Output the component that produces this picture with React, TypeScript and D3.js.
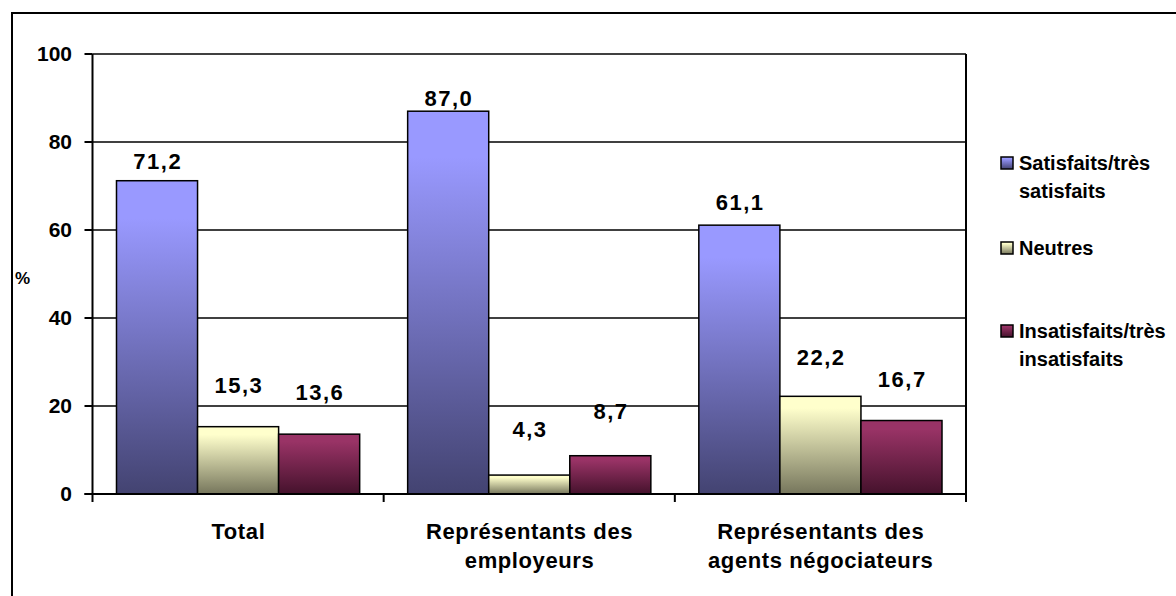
import React from "react";
import * as d3 from "d3";

// Categories, series and values
const categories: string[][] = [
  ["Total"],
  ["Représentants des", "employeurs"],
  ["Représentants des", "agents négociateurs"],
];
const seriesNames: string[][] = [
  ["Satisfaits/très", "satisfaits"],
  ["Neutres"],
  ["Insatisfaits/très", "insatisfaits"],
];
const satisfaits = [71.2, 87.0, 61.1];
const neutres = [15.3, 4.3, 22.2];
const insatisfaits = [13.6, 8.7, 16.7];
const seriesValues = [satisfaits, neutres, insatisfaits];
const yTicks = [0, 20, 40, 60, 80, 100];

const topColors = ["#9999ff", "#ffffcc", "#993366"];
const bottomColors = ["#434371", "#76765c", "#45122c"];

const W = 1176;
const H = 596;
const plot = { left: 92.5, right: 966, top: 54, bottom: 494 };
const FONT = "'Liberation Sans', Arial, Helvetica, sans-serif";

const fmt = (v: number) => v.toFixed(1).replace(".", ",");

export default function App() {
  const x0 = d3
    .scaleBand<number>()
    .domain(d3.range(categories.length))
    .range([plot.left, plot.right])
    .padding(0);
  const x1 = d3
    .scaleBand<number>()
    .domain(d3.range(seriesValues.length))
    .range([0, x0.bandwidth()])
    .paddingInner(0)
    .paddingOuter(0.296);
  const y = d3.scaleLinear().domain([0, 100]).range([plot.bottom, plot.top]);
  // data labels sit on their own baseline scale, lifted above the bars
  const yLabel = d3.scaleLinear().domain([0, 100]).range([plot.bottom - 40, plot.top]);

  const labelSpacing = 1.5;
  const catSpacing = 0.6;

  return (
    <svg
      width={W}
      height={H}
      style={{ position: "absolute", left: 0, top: 0, background: "#fff" }}
      fontFamily={FONT}
    >
      <defs>
        {topColors.map((c, i) => (
          <linearGradient key={i} id={`grad${i}`} x1="0" y1="0" x2="0" y2="1">
            <stop offset="0" stopColor={c} />
            <stop offset="0.12" stopColor={c} />
            <stop offset="1" stopColor={bottomColors[i]} />
          </linearGradient>
        ))}
      </defs>

      {/* outer frame */}
      <rect x={12} y={13} width={W + 20} height={H + 20} fill="#fff" stroke="#000" strokeWidth={2} />

      {/* gridlines */}
      {yTicks.slice(1).map((t) => (
        <line key={t} x1={plot.left} x2={plot.right} y1={y(t)} y2={y(t)} stroke="#000" strokeWidth={1.5} />
      ))}
      {/* right border of plot area */}
      <line x1={plot.right} x2={plot.right} y1={plot.top} y2={plot.bottom} stroke="#000" strokeWidth={2} />

      {/* bars */}
      {seriesValues.map((vals, s) =>
        vals.map((v, c) => {
          const bx = (x0(c) ?? 0) + (x1(s) ?? 0);
          return (
            <rect
              key={`${s}-${c}`}
              x={bx}
              y={y(v)}
              width={x1.bandwidth()}
              height={y(0) - y(v)}
              fill={`url(#grad${s})`}
              stroke="#000"
              strokeWidth={1.5}
            />
          );
        })
      )}

      {/* value labels */}
      {seriesValues.map((vals, s) =>
        vals.map((v, c) => {
          const cx = (x0(c) ?? 0) + (x1(s) ?? 0) + x1.bandwidth() / 2;
          return (
            <text
              key={`l${s}-${c}`}
              x={cx + labelSpacing / 2}
              y={yLabel(v)}
              textAnchor="middle"
              fontSize={22}
              fontWeight="bold"
              letterSpacing={labelSpacing}
              fill="#000"
            >
              {fmt(v)}
            </text>
          );
        })
      )}

      {/* y axis */}
      <line x1={plot.left} x2={plot.left} y1={plot.top} y2={plot.bottom} stroke="#000" strokeWidth={2} />
      {yTicks.map((t) => (
        <g key={`yt${t}`}>
          <line x1={plot.left - 8} x2={plot.left} y1={y(t)} y2={y(t)} stroke="#000" strokeWidth={2} />
          <text
            x={72}
            y={y(t)}
            dy="0.35em"
            textAnchor="end"
            fontSize={21}
            fontWeight="bold"
          >
            {t}
          </text>
        </g>
      ))}
      <text x={15} y={284} fontSize={17} fontWeight="bold">
        %
      </text>

      {/* x axis */}
      <line x1={plot.left - 8} x2={plot.right} y1={plot.bottom} y2={plot.bottom} stroke="#000" strokeWidth={2} />
      {d3.range(categories.length + 1).map((i) => {
        const xx = i < categories.length ? x0(i) ?? 0 : plot.right;
        return (
          <line key={`xt${i}`} x1={xx} x2={xx} y1={plot.bottom} y2={plot.bottom + 8} stroke="#000" strokeWidth={2} />
        );
      })}
      {categories.map((lines, c) => {
        const cx = (x0(c) ?? 0) + x0.bandwidth() / 2 + catSpacing / 2;
        return (
          <text
            key={`cat${c}`}
            x={cx}
            y={539}
            textAnchor="middle"
            fontSize={22}
            fontWeight="bold"
            letterSpacing={catSpacing}
          >
            {lines.map((ln, k) => (
              <tspan key={k} x={cx} dy={k === 0 ? 0 : 29}>
                {ln}
              </tspan>
            ))}
          </text>
        );
      })}

      {/* legend */}
      {seriesNames.map((lines, s) => {
        const ly = [170, 255, 338][s];
        return (
          <g key={`lg${s}`}>
            <rect
              x={1001}
              y={ly - 13}
              width={12}
              height={12}
              fill={`url(#grad${s})`}
              stroke="#000"
              strokeWidth={1.5}
            />
            <text x={1019} y={ly} fontSize={20} fontWeight="bold">
              {lines.map((ln, k) => (
                <tspan key={k} x={1019} dy={k === 0 ? 0 : 28}>
                  {ln}
                </tspan>
              ))}
            </text>
          </g>
        );
      })}
    </svg>
  );
}
